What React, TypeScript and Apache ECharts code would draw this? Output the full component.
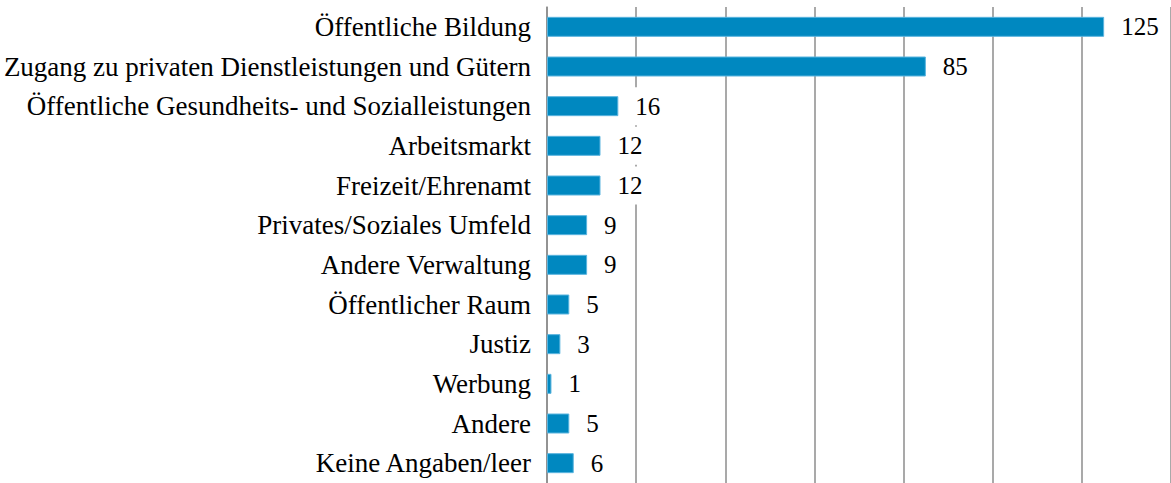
import React, { useEffect, useRef } from "react";
import * as echarts from "echarts";

const categories = [
  "Öffentliche Bildung",
  "Zugang zu privaten Dienstleistungen und Gütern",
  "Öffentliche Gesundheits- und Sozialleistungen",
  "Arbeitsmarkt",
  "Freizeit/Ehrenamt",
  "Privates/Soziales Umfeld",
  "Andere Verwaltung",
  "Öffentlicher Raum",
  "Justiz",
  "Werbung",
  "Andere",
  "Keine Angaben/leer",
];
const values = [125, 85, 16, 12, 12, 9, 9, 5, 3, 1, 5, 6];
const axisMax = 140;
const axisInterval = 20;

const FONT = "Liberation Serif";

export default function App() {
  const ref = useRef<HTMLDivElement>(null);
  useEffect(() => {
    if (!ref.current) return;
    const chart = echarts.init(ref.current, undefined, { renderer: "svg" });
    chart.setOption({
      animation: false,
      backgroundColor: "#ffffff",
      textStyle: { fontFamily: FONT },
      grid: { left: 547, top: 7, width: 625, height: 478, containLabel: false },
      xAxis: {
        type: "value",
        min: 0,
        max: axisMax,
        interval: axisInterval,
        axisLabel: { show: false },
        axisLine: { show: false },
        axisTick: { show: false },
        splitLine: { show: true, lineStyle: { color: "#8c8c8c", width: 1.5 } },
      },
      yAxis: {
        type: "category",
        data: categories,
        inverse: true,
        axisLine: { show: true, lineStyle: { color: "#8c8c8c", width: 1.5 } },
        axisTick: { show: false },
        axisLabel: {
          color: "#000000",
          fontFamily: FONT,
          fontSize: 27,
          margin: 16,
        },
      },
      series: [
        {
          type: "bar",
          data: values,
          barWidth: 20,
          itemStyle: { color: "#0088c0", borderColor: "#5ab4de", borderWidth: 1 },
          label: { show: false },
        },
        {
          type: "custom",
          data: values.map((v, i) => [v, i]),
          encode: { x: 0, y: 1 },
          clip: false,
          z: 5,
          renderItem: (params: any, api: any) => {
            const v = api.value(0);
            const c = api.value(1);
            const p = api.coord([v, c]);
            return {
              type: "text",
              x: p[0] + 15,
              y: p[1],
              style: {
                text: String(v),
                fill: "#000000",
                fontFamily: FONT,
                fontSize: 25,
                font: "25px 'Liberation Serif'",
                align: "left",
                verticalAlign: "middle",
                backgroundColor: "#ffffff",
                padding: [7, 2, 6, 2],
              },
            };
          },
        },
      ],
    });
    return () => chart.dispose();
  }, []);
  return (
    <div
      ref={ref}
      style={{ position: "fixed", left: 0, top: 0, width: 1171, height: 483, background: "#fff" }}
    />
  );
}
